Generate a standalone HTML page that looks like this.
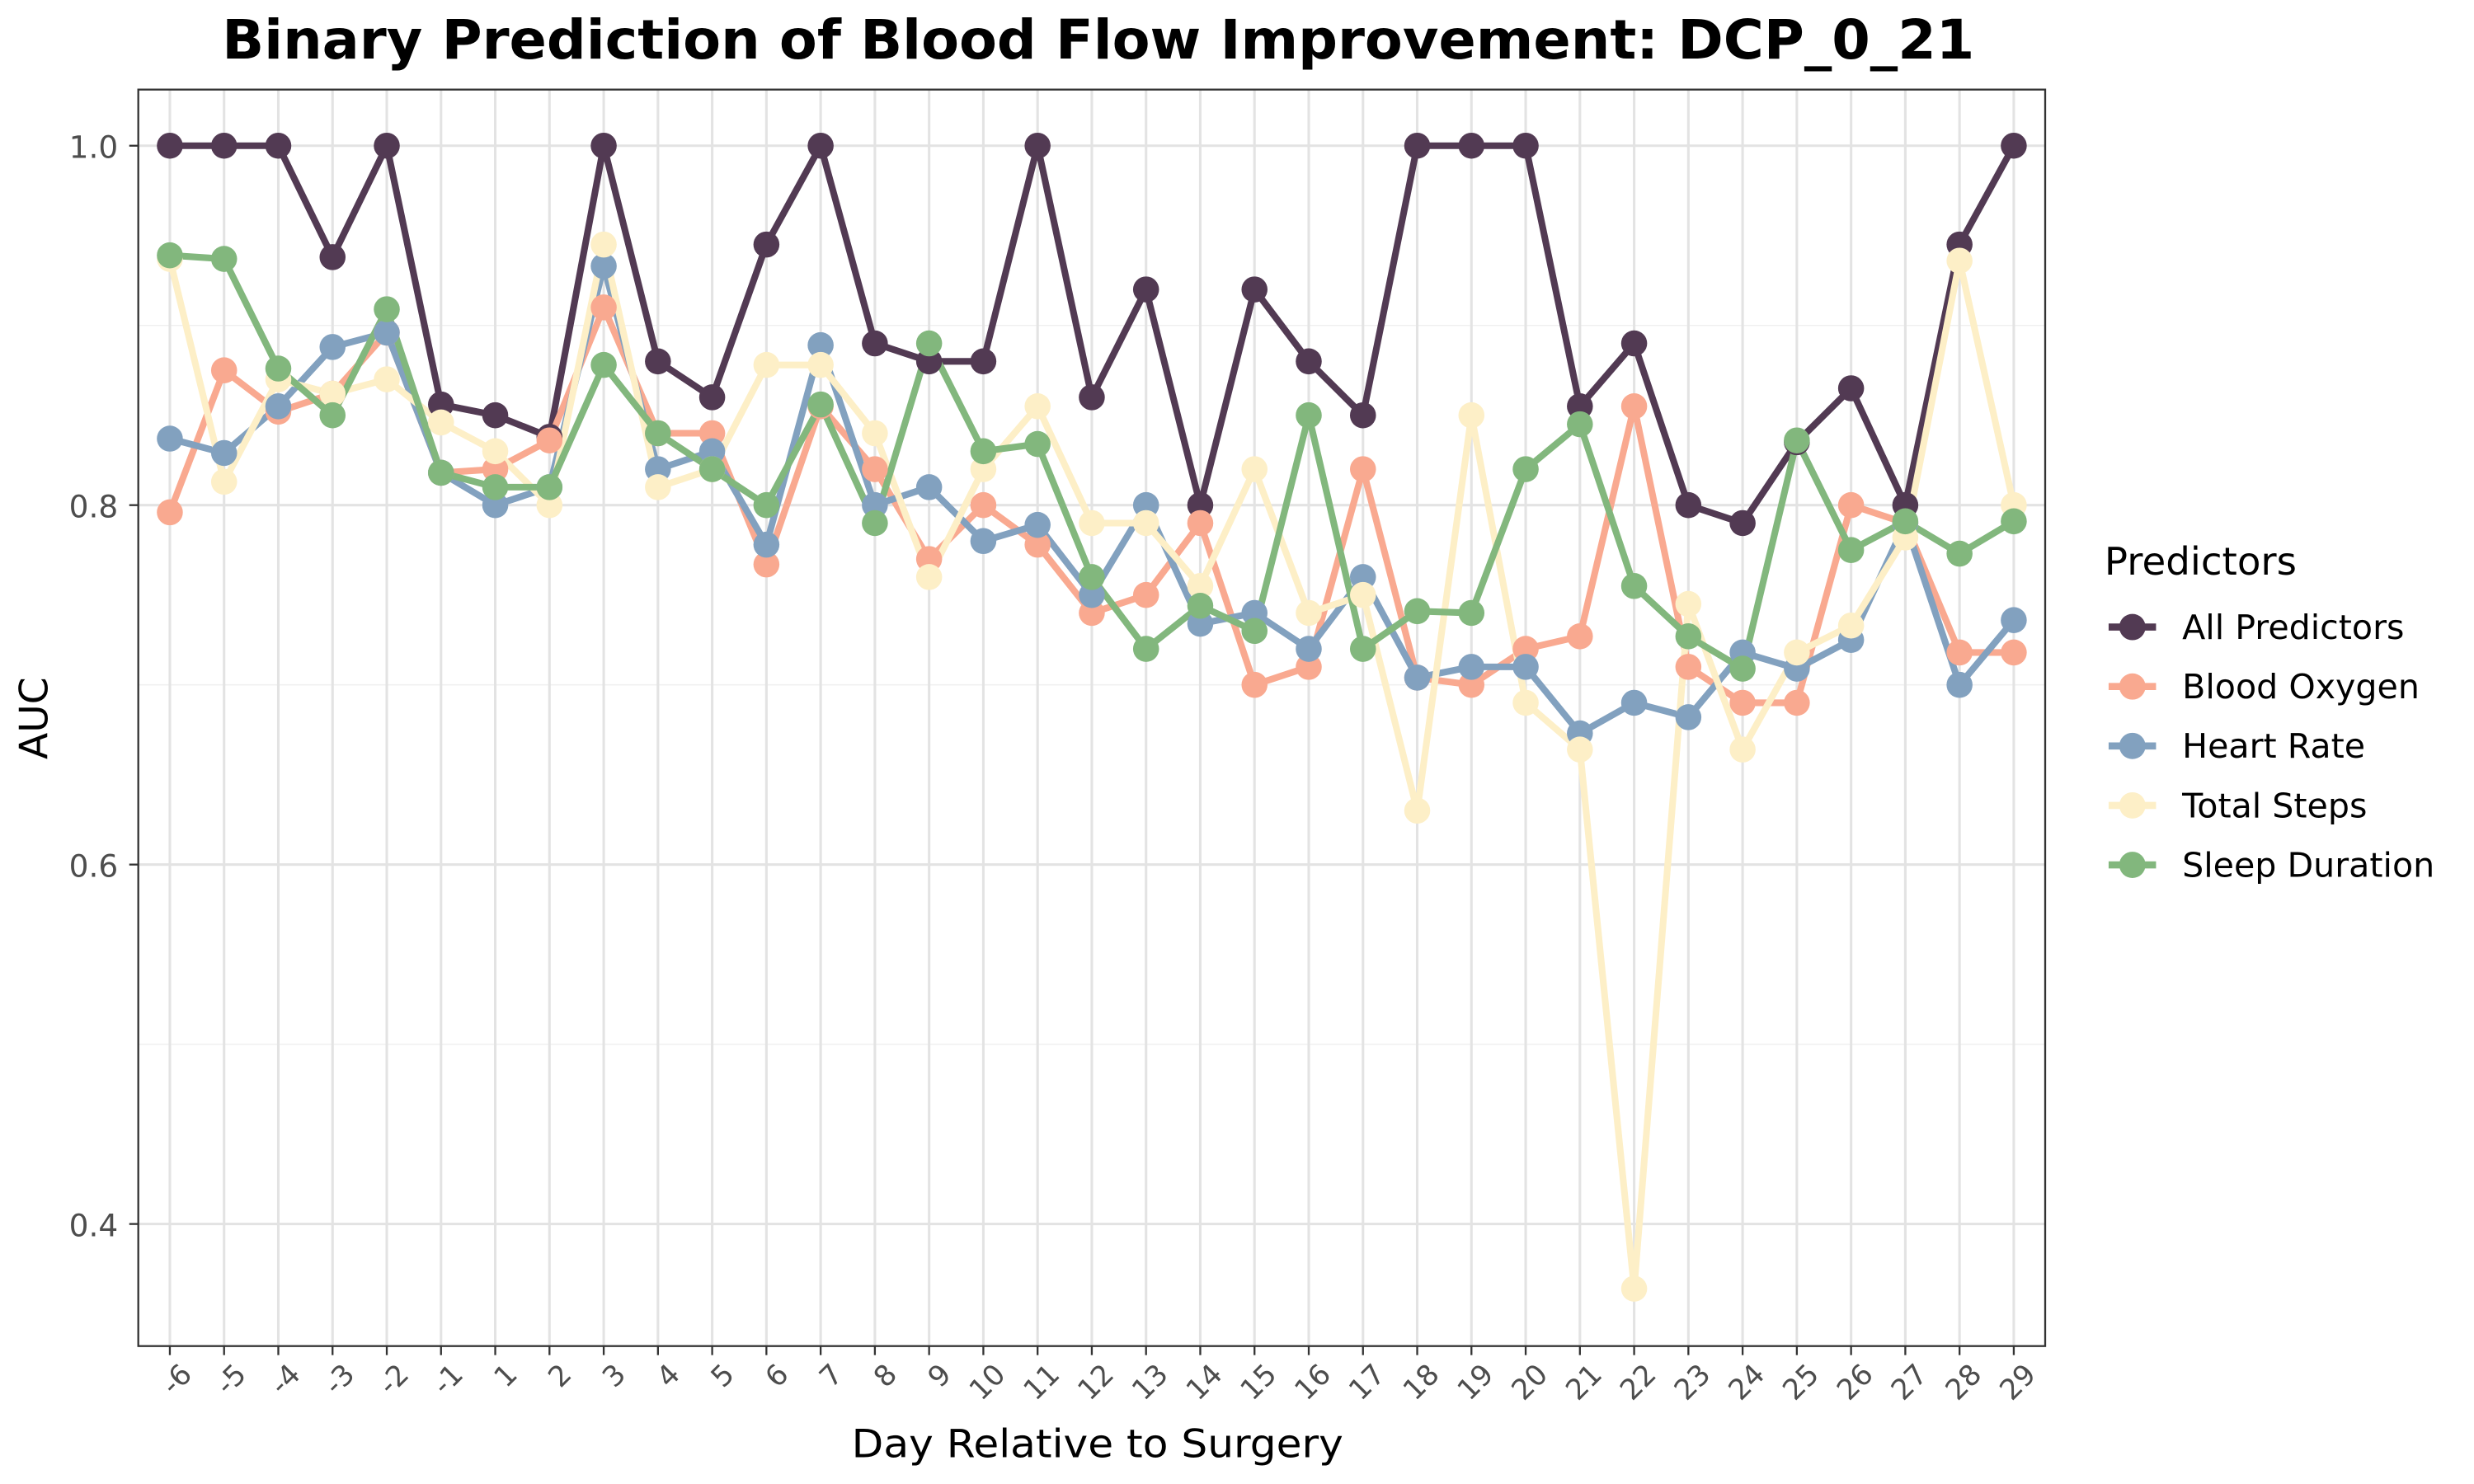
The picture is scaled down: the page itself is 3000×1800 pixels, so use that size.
<!DOCTYPE html>
<html><head><meta charset="utf-8"><style>
html,body{margin:0;padding:0;background:#fff;}
svg{display:block;font-family:"DejaVu Sans","Liberation Sans",sans-serif;}
</style></head><body>
<svg id="chart" width="3000" height="1800" viewBox="0 0 1560 936" xmlns="http://www.w3.org/2000/svg">
<rect x="0" y="0" width="1560" height="936" fill="#fff"/>
<text x="692.5" y="37" text-anchor="middle" font-size="34.5" font-weight="bold" fill="#000" textLength="1105" lengthAdjust="spacingAndGlyphs">Binary Prediction of Blood Flow Improvement: DCP_0_21</text>
<g id="grid"></g>
<g id="lines"></g>
<g id="points"></g>
<rect x="87.2" y="56.5" width="1202.4" height="792.5" fill="none" stroke="#333" stroke-width="1.2"/>
<g id="axes"></g>
<text x="692" y="919" text-anchor="middle" font-size="24.5" fill="#000" textLength="310" lengthAdjust="spacingAndGlyphs">Day Relative to Surgery</text>
<text transform="translate(30,453) rotate(-90)" text-anchor="middle" font-size="24.5" fill="#000">AUC</text>
<g id="legend"></g>
</svg>
<script>
const categories = ["-6","-5","-4","-3","-2","-1","1","2","3","4","5","6","7","8","9","10","11","12","13","14","15","16","17","18","19","20","21","22","23","24","25","26","27","28","29"];
const seriesNames = ["All Predictors","Blood Oxygen","Heart Rate","Total Steps","Sleep Duration"];
const allPredictors = [1.0,1.0,1.0,0.938,1.0,0.856,0.85,0.838,1.0,0.88,0.86,0.945,1.0,0.89,0.88,0.88,1.0,0.86,0.92,0.80,0.92,0.88,0.85,1.0,1.0,1.0,0.855,0.89,0.80,0.79,0.835,0.865,0.80,0.945,1.0];
const bloodOxygen = [0.796,0.875,0.852,0.862,0.896,0.818,0.82,0.836,0.91,0.84,0.84,0.767,0.855,0.82,0.77,0.80,0.778,0.74,0.75,0.79,0.70,0.71,0.82,0.704,0.70,0.72,0.727,0.855,0.71,0.69,0.69,0.80,0.79,0.718,0.718];
const heartRate = [0.837,0.829,0.855,0.888,0.896,0.818,0.80,0.81,0.933,0.82,0.83,0.778,0.889,0.80,0.81,0.78,0.789,0.75,0.80,0.734,0.74,0.72,0.76,0.704,0.71,0.71,0.673,0.69,0.682,0.718,0.709,0.725,0.79,0.70,0.736];
const totalSteps = [0.937,0.813,0.87,0.862,0.87,0.846,0.83,0.80,0.945,0.81,0.82,0.878,0.878,0.84,0.76,0.82,0.855,0.79,0.79,0.755,0.82,0.74,0.75,0.63,0.85,0.69,0.664,0.364,0.745,0.664,0.718,0.733,0.782,0.936,0.80];
const sleepDuration = [0.939,0.937,0.876,0.85,0.909,0.818,0.81,0.81,0.878,0.84,0.82,0.80,0.856,0.79,0.89,0.83,0.834,0.76,0.72,0.744,0.73,0.85,0.72,0.741,0.74,0.82,0.845,0.755,0.727,0.709,0.836,0.775,0.791,0.773,0.791];
const yTicks = [0.4,0.6,0.8,1.0];
const yMinor = [0.5,0.7,0.9];

const seriesData = [allPredictors,bloodOxygen,heartRate,totalSteps,sleepDuration];
const colors = ["#523A53","#F9A990","#82A1BF","#FDEFC7","#82B77D"];
const NS="http://www.w3.org/2000/svg";
const PL=87.2,PR=1289.6,PT=56.5,PB=849;
const yScale=v=>91.9+(1-v)*1133.5;
const xScale=i=>107.1+i*(1269.8-107.1)/(categories.length-1);
function mk(tag,attrs,parent){const e=document.createElementNS(NS,tag);for(const k in attrs)e.setAttribute(k,attrs[k]);parent.appendChild(e);return e;}
const grid=document.getElementById('grid'),axes=document.getElementById('axes');
yMinor.forEach(v=>{const l=mk('line',{x1:PL,x2:PR,y1:yScale(v),y2:yScale(v),stroke:'#f0f0f0','stroke-width':0.8},grid);

});
yTicks.forEach(v=>{const y=yScale(v);const l=mk('line',{x1:PL,x2:PR,y1:y,y2:y,stroke:'#e3e3e3','stroke-width':1.6},grid);


mk('line',{x1:PL-5.7,x2:PL,y1:y,y2:y,stroke:'#333','stroke-width':1.2},axes);
const t=mk('text',{x:74.5,y:y+7.8,'text-anchor':'end','font-size':19.5,fill:'#4d4d4d'},axes);t.textContent=v.toFixed(1);

});
categories.forEach((c,i)=>{const x=xScale(i);const l=mk('line',{x1:x,x2:x,y1:PT,y2:PB,stroke:'#e3e3e3','stroke-width':1.6},grid);


mk('line',{x1:x,x2:x,y1:PB,y2:PB+5.7,stroke:'#333','stroke-width':1.2},axes);
const t=mk('text',{transform:`translate(${x+6},${PB+10}) rotate(-45)`,'text-anchor':'end','font-size':18,fill:'#4d4d4d',dy:'0.7em'},axes);t.textContent=c;

});
const lines=document.getElementById('lines'),points=document.getElementById('points');
seriesData.forEach((d,s)=>{const p=mk('polyline',{points:d.map((v,i)=>xScale(i)+','+yScale(v)).join(' '),fill:'none',stroke:colors[s],'stroke-width':4.2,'stroke-linejoin':'round'},lines);

});
seriesData.forEach((d,s)=>{d.forEach((v,i)=>{const c=mk('circle',{cx:xScale(i),cy:yScale(v),r:8.2,fill:colors[s]},points);

});});
const lg=document.getElementById('legend');
const lt=mk('text',{x:1327,y:362.5,'font-size':24.3,fill:'#000'},lg);lt.textContent='Predictors';


seriesNames.forEach((n,s)=>{const y=395.5+s*37.5;
const g=mk('g',{},lg);


mk('line',{x1:1329.6,x2:1359.5,y1:y,y2:y,stroke:colors[s],'stroke-width':4.5},g);
mk('circle',{cx:1344.6,cy:y,r:8.3,fill:colors[s]},g);
const t=mk('text',{x:1376,y:y+7.5,'font-size':21.4,fill:'#000'},g);t.textContent=n;});
</script>
</body></html>
